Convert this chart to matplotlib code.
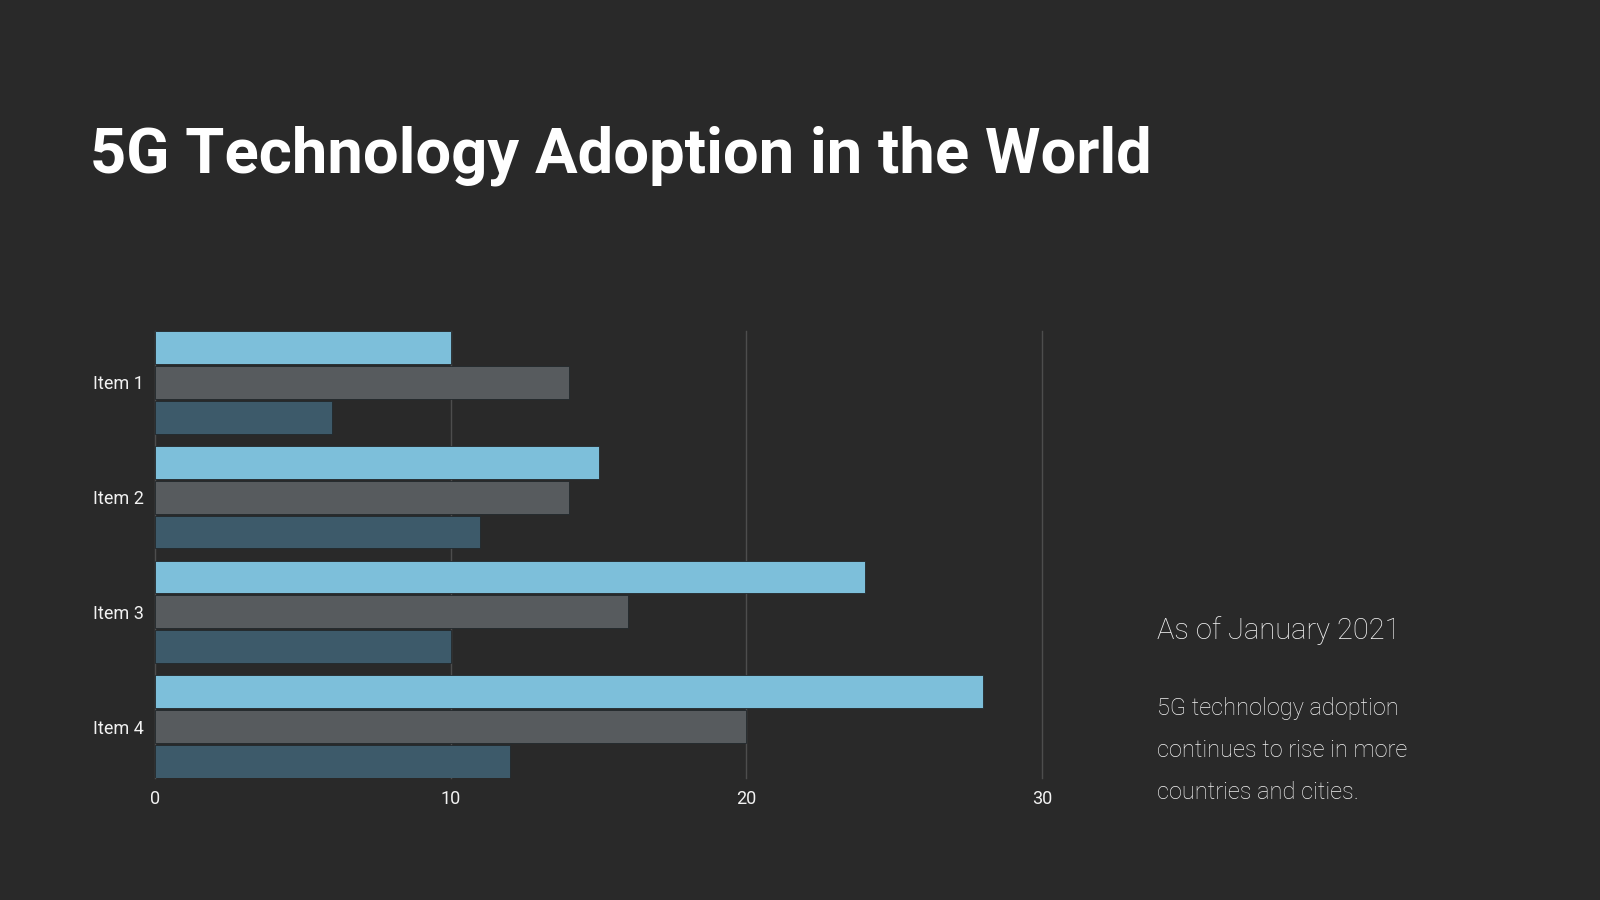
import matplotlib
matplotlib.use("Agg")
import matplotlib.pyplot as plt
from matplotlib import font_manager as fm
import numpy as np

# ---- data ----
categories = ["Item 1", "Item 2", "Item 3", "Item 4"]
series_a = [10, 15, 24, 28]   # light blue
series_b = [14, 14, 16, 20]   # gray
series_c = [6, 11, 10, 12]    # dark teal
x_ticks = [0, 10, 20, 30]

title_text = "5G Technology Adoption in the World"
subtitle_text = "As of January 2021"
body_lines = ["5G technology adoption", "continues to rise in more", "countries and cities."]

BG = "#292929"
C_A = "#7DBFDA"
C_B = "#575B5E"
C_C = "#3D5A6A"
TXT = "#F2F2F2"
GRID = "#4D4D4D"

# ---- font selection ----
names = {f.name for f in fm.fontManager.ttflist}
if "Liberation Sans Narrow" in names:
    title_font = dict(family="Liberation Sans Narrow", weight="bold")
elif "Roboto" in names:
    title_font = dict(family="Roboto", weight="bold")
else:
    title_font = dict(family="DejaVu Sans", weight="bold")

light_family = "Roboto" if "Roboto" in names else "DejaVu Sans"

fig = plt.figure(figsize=(16, 9), dpi=100, facecolor=BG)
ax = fig.add_axes([155/1600, 1-778/900, (1042-155)/1600, (778-331)/900])
ax.set_facecolor(BG)

y = np.arange(len(categories))
pitch = 0.3036
h = 0.286
for vals, col, off in [(series_a, C_A, -pitch), (series_b, C_B, 0), (series_c, C_C, pitch)]:
    ax.barh(y + off, vals, height=h, color=col, edgecolor="#22282c", linewidth=0.6, zorder=3)

ax.set_xlim(0, 30)
ax.set_ylim(3 + 0.4465, -0.4465)
ax.set_xticks(x_ticks)
ax.set_xticklabels([str(t) for t in x_ticks])
ax.set_yticks(y)
ax.set_yticklabels(categories)
ax.tick_params(axis="both", length=0, colors=TXT, labelsize=13)
ax.tick_params(axis="x", pad=9)
ax.tick_params(axis="y", pad=8)
for lab in ax.get_xticklabels() + ax.get_yticklabels():
    lab.set_family(light_family)
    lab.set_fontweight("normal")
for s in ax.spines.values():
    s.set_visible(False)
ax.grid(axis="x", color=GRID, linewidth=1.0, zorder=0)
for gl in ax.get_xgridlines():
    gl.set_clip_on(False)
ax.grid(axis="y", visible=False)

# ---- title ----
t = fig.text(90/1600, 1-173/900, title_text, color="white", fontsize=60, va="baseline", ha="left", **title_font)
fig.canvas.draw()
r = fig.canvas.get_renderer()
w = t.get_window_extent(renderer=r).width
target = 1063.0
t.set_fontsize(60 * target / w)

# ---- side text ----
fig.text(1157/1600, 1-639/900, subtitle_text, color=TXT, fontsize=21, family=light_family,
         fontweight="light", va="baseline", ha="left")
for i, line in enumerate(body_lines):
    fig.text(1157/1600, 1-(715 + 42*i)/900, line, color=TXT, fontsize=17, family=light_family,
             fontweight="light", va="baseline", ha="left")

fig.savefig("out.png", dpi=100, facecolor=BG)
